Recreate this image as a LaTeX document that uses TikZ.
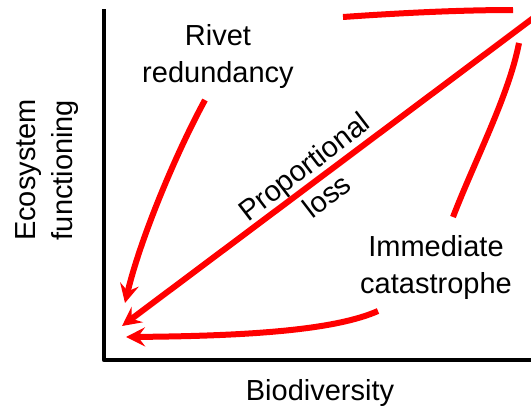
\documentclass[tikz,border=0pt]{standalone}
\usepackage{fontspec}
\setmainfont{Liberation Sans}
\usetikzlibrary{arrows.meta}
\begin{document}
\begin{tikzpicture}[x=1pt,y=-1pt,
  lbl/.style={inner sep=0pt, align=center, font=\fontsize{29}{37}\selectfont},
  axis/.style={line width=4.5pt, line join=round, black},
  redline/.style={line width=6pt, red},
  redarrow/.style={redline, -{Stealth[length=19pt,width=19pt,inset=7pt]}}]
\useasboundingbox[fill=white] (0,0) rectangle (531,410);
% axes
\coordinate (ytop) at (104,9);
\coordinate (origin) at (104,360);
\coordinate (xend) at (535,360);
\draw[axis] (ytop) -- (origin) -- (xend);
% labels
\node[lbl, rotate=90] (ylab) at (47,170) {Ecosystem\\functioning};
\node[lbl] (xlab) at (320,393) {Biodiversity};
\node[lbl] (rivet) at (218,56) {Rivet\\redundancy};
\node[lbl] (imm) at (436,267) {Immediate\\catastrophe};
\node[lbl, rotate=37.5] (prop) at (315,181) {Proportional\\loss};
% coordinates
\coordinate (top1) at (343,17);
\coordinate (top2) at (513,10);
\coordinate (diagS) at (540,13);
\coordinate (diagE) at (122,326);
\coordinate (rivS) at (205,100);
\coordinate (rivE) at (125,303);
\coordinate (imS) at (519,43);
\coordinate (imM) at (453,217);
\coordinate (imB) at (378,311);
\coordinate (imE) at (126,337);
% curves
\draw[redline] (top1) .. controls (400,13) and (460,10) .. (top2);
\draw[redarrow] (diagS) -- (diagE);
\draw[redarrow] (rivS) .. controls (175,155) and (140,240) .. (rivE);
\draw[redline] (imS) .. controls (509,95) and (475,160) .. (imM);
\draw[redarrow] (imB) .. controls (335,330) and (250,336) .. (imE);
\end{tikzpicture}
\end{document}
